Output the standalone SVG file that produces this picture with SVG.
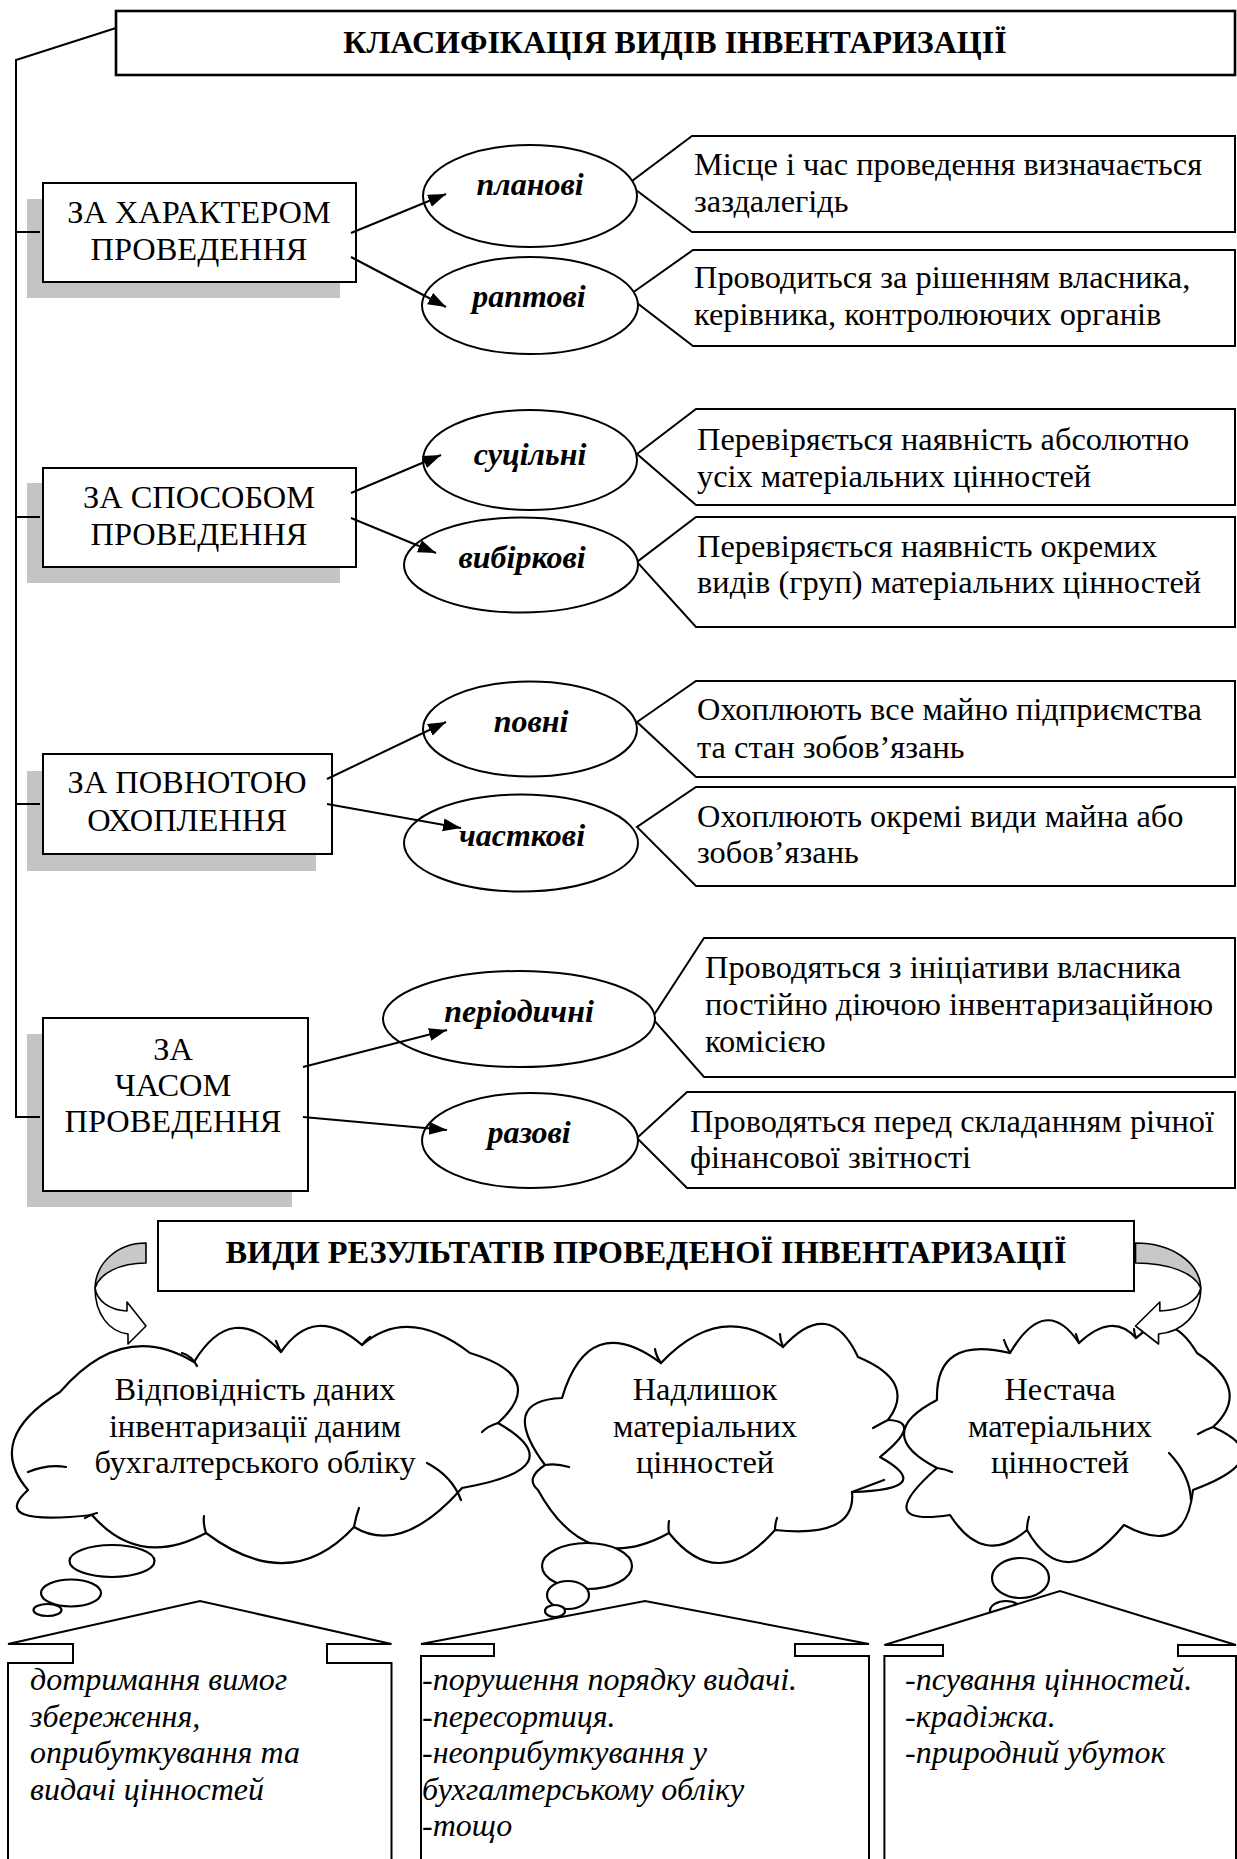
<svg xmlns="http://www.w3.org/2000/svg" width="1237" height="1859" viewBox="0 0 1237 1859">
<style>
text{font-family:"Liberation Serif","Times New Roman",serif;fill:#000}
.t{font-size:32.4px}
.c{text-anchor:middle}
.b{font-weight:bold}
.bi{font-weight:bold;font-style:italic;font-size:32px;text-anchor:middle}
.i{font-style:italic;font-size:32px}
.box{fill:#fff;stroke:#000;stroke-width:2}
.sh{fill:#c4c4c4;stroke:none}
.el{fill:#fff;stroke:#000;stroke-width:2}
.ln{fill:none;stroke:#000;stroke-width:2}
.ar{fill:none;stroke:#000;stroke-width:2;marker-end:url(#ah)}
.cl{fill:#fff;stroke:#000;stroke-width:2.2;stroke-linejoin:round}
.ia{fill:none;stroke:#000;stroke-width:2.2;stroke-linecap:round}
</style>
<defs>
<marker id="ah" markerUnits="userSpaceOnUse" markerWidth="20" markerHeight="14" refX="18" refY="6.5" orient="auto">
<path d="M0,0 L18,6.5 L0,13 Z" fill="#000"/>
</marker>
</defs>
<rect width="1237" height="1859" fill="#fff"/>

<g id="title">
<rect x="116" y="11" width="1119" height="64" fill="#fff" stroke="#000" stroke-width="2.6"/>
<text x="675" y="53" class="b c" font-size="32">КЛАСИФІКАЦІЯ ВИДІВ ІНВЕНТАРИЗАЦІЇ</text>
</g>

<g id="cat1">
<rect class="sh" x="27" y="199" width="313" height="99"/>
<rect class="box" x="43" y="183" width="313" height="99"/>
<text class="t c" x="199" y="223">ЗА ХАРАКТЕРОМ</text>
<text class="t c" x="199" y="260">ПРОВЕДЕННЯ</text>
</g>
<g id="cat2">
<rect class="sh" x="27" y="483" width="313" height="100"/>
<rect class="box" x="43" y="468" width="313" height="99"/>
<text class="t c" x="199" y="508">ЗА СПОСОБОМ</text>
<text class="t c" x="199" y="545">ПРОВЕДЕННЯ</text>
</g>
<g id="cat3">
<rect class="sh" x="27" y="771" width="289" height="100"/>
<rect class="box" x="43" y="754" width="289" height="100"/>
<text class="t c" x="187" y="793">ЗА ПОВНОТОЮ</text>
<text class="t c" x="187" y="831">ОХОПЛЕННЯ</text>
</g>
<g id="cat4">
<rect class="sh" x="27" y="1034" width="265" height="173"/>
<rect class="box" x="43" y="1018" width="265" height="173"/>
<text class="t c" x="173" y="1060">ЗА</text>
<text class="t c" x="173" y="1096">ЧАСОМ</text>
<text class="t c" x="173" y="1132">ПРОВЕДЕННЯ</text>
</g>

<g id="desc1">
<path class="box" d="M692,136 H1235 V232 H692 L628,184 Z"/>
<text class="t" x="694" y="175">Місце і час проведення визначається</text>
<text class="t" x="694" y="212">заздалегідь</text>
</g>
<g id="desc2">
<path class="box" d="M693,250 H1235 V346 H693 L628,296 Z"/>
<text class="t" x="694" y="288">Проводиться за рішенням власника,</text>
<text class="t" x="694" y="325">керівника, контролюючих органів</text>
</g>
<g id="desc3">
<path class="box" d="M696,409 H1235 V505 H696 L637,454 Z"/>
<text class="t" x="697" y="450">Перевіряється наявність абсолютно</text>
<text class="t" x="697" y="487">усіх матеріальних цінностей</text>
</g>
<g id="desc4">
<path class="box" d="M696,517 H1235 V627 H696 L637,562 Z"/>
<text class="t" x="697" y="557">Перевіряється наявність окремих</text>
<text class="t" x="697" y="593">видів (груп) матеріальних цінностей</text>
</g>
<g id="desc5">
<path class="box" d="M696,681 H1235 V777 H696 L637,722 Z"/>
<text class="t" x="697" y="720">Охоплюють все майно підприємства</text>
<text class="t" x="697" y="758">та стан зобов’язань</text>
</g>
<g id="desc6">
<path class="box" d="M696,787 H1235 V886 H696 L637,827 Z"/>
<text class="t" x="697" y="827">Охоплюють окремі види майна або</text>
<text class="t" x="697" y="863">зобов’язань</text>
</g>
<g id="desc7">
<path class="box" d="M704,938 H1235 V1077 H704 L652,1018 Z"/>
<text class="t" x="705" y="978">Проводяться з ініціативи власника</text>
<text class="t" x="705" y="1015">постійно діючою інвентаризаційною</text>
<text class="t" x="705" y="1052">комісією</text>
</g>
<g id="desc8">
<path class="box" d="M687,1092 H1235 V1188 H687 L637,1138 Z"/>
<text class="t" x="690" y="1132">Проводяться перед складанням річної</text>
<text class="t" x="690" y="1168">фінансової звітності</text>
</g>

<g id="e1"><ellipse class="el" cx="530" cy="196" rx="107" ry="51"/><text class="bi" x="530" y="195">планові</text></g>
<g id="e2"><ellipse class="el" cx="530" cy="305.5" rx="108" ry="48.5"/><text class="bi" x="529" y="307">раптові</text></g>
<g id="e3"><ellipse class="el" cx="530" cy="460" rx="107" ry="50"/><text class="bi" x="530" y="465">суцільні</text></g>
<g id="e4"><ellipse class="el" cx="521" cy="565" rx="117" ry="47.5"/><text class="bi" x="522" y="568">вибіркові</text></g>
<g id="e5"><ellipse class="el" cx="530" cy="729" rx="107" ry="47.5"/><text class="bi" x="531" y="732">повні</text></g>
<g id="e6"><ellipse class="el" cx="521" cy="843" rx="117" ry="48.5"/><text class="bi" x="522" y="846">часткові</text></g>
<g id="e7"><ellipse class="el" cx="519" cy="1019" rx="136" ry="48"/><text class="bi" x="519" y="1022">періодичні</text></g>
<g id="e8"><ellipse class="el" cx="530" cy="1140.5" rx="108" ry="47.5"/><text class="bi" x="529" y="1143">разові</text></g>

<g id="connectors">
<polyline class="ln" points="116,28 16,60 16,1117 40,1117"/>
<line class="ln" x1="16" y1="232" x2="40" y2="232"/>
<line class="ln" x1="16" y1="517" x2="40" y2="517"/>
<line class="ln" x1="16" y1="804" x2="40" y2="804"/>
<line class="ar" x1="351" y1="233" x2="446" y2="194"/>
<line class="ar" x1="351" y1="257" x2="446" y2="307"/>
<line class="ar" x1="351" y1="493" x2="441" y2="455"/>
<line class="ar" x1="351" y1="518" x2="436" y2="553"/>
<line class="ar" x1="327" y1="779" x2="446" y2="722"/>
<line class="ar" x1="327" y1="804" x2="461" y2="828"/>
<line class="ar" x1="303" y1="1067" x2="447" y2="1030"/>
<line class="ar" x1="303" y1="1117" x2="447" y2="1130"/>
</g>

<g id="title2">
<rect x="158" y="1221" width="976" height="70" fill="#fff" stroke="#000" stroke-width="2"/>
<text x="646" y="1263" class="b c" font-size="32.4">ВИДИ РЕЗУЛЬТАТІВ ПРОВЕДЕНОЇ ІНВЕНТАРИЗАЦІЇ</text>
</g>

<g id="cloud1">
<path class="cl" d="M28,1490 Q-16,1439 60,1392 Q123,1319 194,1362 Q232.5,1299 281,1352 Q314.5,1303.5 362,1345 Q408,1305 470,1353 Q549,1377 498,1423 Q576,1468 462,1488 Q402,1556 354,1527 Q290,1596 206,1533 Q139,1569 92,1515 Q-12,1526 28,1490 Z"/>
<path class="ia" d="M182,1353 Q192,1356 197,1366 M281,1352 Q278,1346 276,1341 M362,1345 Q366,1340 370,1337 M498,1423 Q488,1426 482,1432 M427,1463 Q452,1476 461,1500 M206,1533 Q203,1524 204,1516 M354,1527 Q356,1516 359,1508 M85,1518 Q91,1514 97,1513 M28,1472 Q48,1464 66,1467"/>
<text class="t c" x="255" y="1400">Відповідність даних</text>
<text class="t c" x="255" y="1437">інвентаризації даним</text>
<text class="t c" x="255" y="1473">бухгалтерського обліку</text>
</g>
<g id="cloud2">
<path class="cl" d="M545,1465 Q497.5,1400.5 562,1398 Q588.5,1309.5 661,1363 Q722,1299 783,1347 Q829.5,1296 858,1357 Q917,1381.5 888,1420 Q924,1421.5 880,1457 Q938,1489.5 852,1492 Q856.5,1538.5 775,1530 Q718,1594.5 669,1533 Q586.5,1578.5 538,1490 Q524.5,1478.5 545,1465 Z"/>
<path class="ia" d="M661,1363 Q656,1356 655,1349 M783,1347 Q780,1340 780,1334 M888,1420 Q880,1424 873,1428 M884,1480 Q868,1486 852,1492 M775,1530 Q775,1524 777,1518 M669,1533 Q668,1527 669,1521 M569,1467 Q556,1463 545,1465"/>
<text class="t c" x="705" y="1400">Надлишок</text>
<text class="t c" x="705" y="1437">матеріальних</text>
<text class="t c" x="705" y="1473">цінностей</text>
</g>
<g id="cloud3">
<path class="cl" d="M950,1515 Q870,1527 937,1468 Q871,1434 937,1400 Q935,1335 1010,1353 Q1045.5,1293 1079,1343 Q1112.5,1311.5 1136,1338 Q1169.5,1306.5 1197,1353 Q1253,1390 1213,1427 Q1281,1457.5 1193,1490 Q1185.5,1558.5 1124,1525 Q1064.5,1596.5 1027,1530 Q983.5,1567.5 950,1515 Z"/>
<path class="ia" d="M1010,1353 Q1006,1346 1004,1340 M1079,1343 Q1077,1338 1076,1334 M1136,1338 Q1134,1333 1134,1329 M1213,1427 Q1205,1430 1198,1434 M1169,1453 Q1190,1475 1191,1500 M1027,1530 Q1027,1523 1029,1517 M937,1468 Q945,1469 952,1472"/>
<text class="t c" x="1060" y="1400">Нестача</text>
<text class="t c" x="1060" y="1437">матеріальних</text>
<text class="t c" x="1060" y="1473">цінностей</text>
</g>

<g id="bubbles">
<ellipse class="cl" cx="112" cy="1561" rx="42.5" ry="16"/>
<ellipse class="cl" cx="71" cy="1593" rx="30" ry="13.5"/>
<ellipse class="cl" cx="47.5" cy="1610" rx="14" ry="6"/>
<ellipse class="cl" cx="587" cy="1566" rx="45" ry="23"/>
<ellipse class="cl" cx="568" cy="1595" rx="21" ry="14"/>
<ellipse class="cl" cx="555" cy="1611" rx="10" ry="6"/>
<ellipse class="cl" cx="1020.5" cy="1578" rx="28.5" ry="20"/>
<ellipse class="cl" cx="1006" cy="1611" rx="16" ry="10"/>
</g>

<g id="arrowL">
<path d="M146,1243 C118,1243 96,1262 95,1288 C100,1273 120,1263 146,1263 Z" fill="#c8c8c8" stroke="#000" stroke-width="1.6" stroke-linejoin="round"/>
<path d="M95,1288 C97,1300 108,1310 127,1311 L127,1302 L146,1326 L128,1344 L128,1334 C110,1332 95,1315 95,1288 Z" fill="#fff" stroke="#000" stroke-width="1.6" stroke-linejoin="round"/>
</g>
<g id="arrowR" transform="matrix(-1.28,0,0,1,1322.4,0)">
<path d="M146,1243 C118,1243 96,1262 95,1288 C100,1273 120,1263 146,1263 Z" fill="#c8c8c8" stroke="#000" stroke-width="1.6" stroke-linejoin="round" vector-effect="non-scaling-stroke"/>
<path d="M95,1288 C97,1300 108,1310 127,1311 L127,1302 L146,1326 L128,1344 L128,1334 C110,1332 95,1315 95,1288 Z" fill="#fff" stroke="#000" stroke-width="1.6" stroke-linejoin="round" vector-effect="non-scaling-stroke"/>
</g>

<g id="house1">
<path class="box" d="M8,1862 V1663 H73 V1644 H8 L200,1601 L391.5,1644 H327 V1663 H391.5 V1862"/>
<text class="i" x="30" y="1690">дотримання вимог</text>
<text class="i" x="30" y="1727">збереження,</text>
<text class="i" x="30" y="1763">оприбуткування та</text>
<text class="i" x="30" y="1800">видачі цінностей</text>
</g>
<g id="house2">
<path class="box" d="M421,1862 V1656 H494 V1644 H421 L645,1601 L869,1644 H795 V1656 H869 V1862"/>
<text class="i" x="422" y="1690">-порушення порядку видачі.</text>
<text class="i" x="422" y="1727">-пересортиця.</text>
<text class="i" x="422" y="1763">-неоприбуткування у</text>
<text class="i" x="422" y="1800">бухгалтерському обліку</text>
<text class="i" x="422" y="1836">-тощо</text>
</g>
<g id="house3">
<path class="box" d="M884.4,1862 V1656 H943 V1645 H884.4 L1060,1591 L1236,1645 H1178 V1656 H1236 V1862"/>
<text class="i" x="905" y="1690">-псування цінностей.</text>
<text class="i" x="905" y="1727">-крадіжка.</text>
<text class="i" x="905" y="1763">-природний убуток</text>
</g>
</svg>
